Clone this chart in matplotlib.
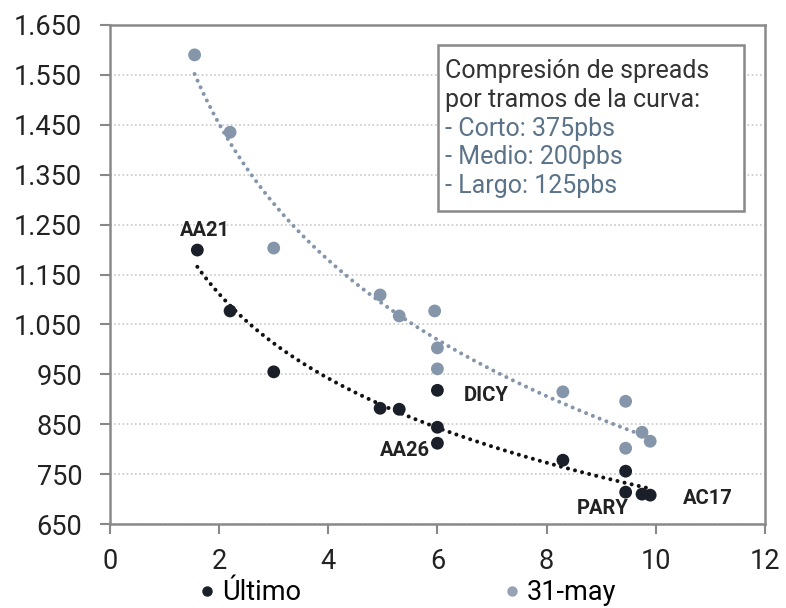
import numpy as np
import matplotlib
matplotlib.use("Agg")
import matplotlib.pyplot as plt
from matplotlib.patches import Rectangle
from matplotlib.lines import Line2D

plt.rcParams['font.family'] = ['Roboto', 'DejaVu Sans']

# Data
ultimo_x = [1.6, 2.2, 3.0, 4.95, 5.3, 6.0, 6.0, 6.0, 8.3, 9.45, 9.45, 9.75, 9.9]
ultimo_y = [1199, 1077, 955, 882, 880, 918, 844, 812, 778, 756, 714, 710, 708]
may_x = [1.55, 2.2, 3.0, 4.95, 5.3, 5.95, 6.0, 6.0, 8.3, 9.45, 9.45, 9.75, 9.9]
may_y = [1590, 1435, 1203, 1109, 1067, 1077, 1003, 961, 915, 896, 802, 834, 816]
labels = ["AA21", "DICY", "AA26", "PARY", "AC17"]
label_x = [1.74, 6.9, 5.4, 9.03, 10.95]
label_y = [1239, 908, 798, 682, 702]
yticks = [650, 750, 850, 950, 1050, 1150, 1250, 1350, 1450, 1550, 1650]
ytick_labels = ["650", "750", "850", "950", "1.050", "1.150", "1.250", "1.350", "1.450", "1.550", "1.650"]
xticks = [0, 2, 4, 6, 8, 10, 12]
box_lines = ["Compresión de spreads", "por tramos de la curva:", "- Corto: 375pbs", "- Medio: 200pbs", "- Largo: 125pbs"]
series_names = ["Último", "31-may"]

dark = "#1b1f29"
gray = "#8596ab"

fig = plt.figure(figsize=(7.86, 6.08), dpi=100)
ax = fig.add_axes([0.140, 0.138, 0.833, 0.821])

# log trendlines
def logfit(xs, ys):
    b, a = np.polyfit(np.log(xs), ys, 1)
    xx = np.linspace(min(xs), max(xs), 300)
    return xx, a + b * np.log(xx)

dotted = (0, (0.01, 1.8))
xx, yy = logfit(may_x, may_y)
ax.plot(xx, yy, color=gray, lw=2.9, linestyle=dotted, dash_capstyle='round', zorder=2)
xx, yy = logfit(ultimo_x, ultimo_y)
ax.plot(xx, yy, color="#111111", lw=2.9, linestyle=dotted, dash_capstyle='round', zorder=2)

ax.scatter(may_x, may_y, s=85, color=gray, zorder=3, edgecolors='none')
ax.scatter(ultimo_x, ultimo_y, s=85, color=dark, zorder=4, edgecolors='none')

for t, x, y in zip(labels, label_x, label_y):
    ax.text(x, y, t, fontsize=14.5, fontweight='bold', color="#222222", ha='center', va='center')

ax.set_xlim(0, 12)
ax.set_ylim(650, 1650)
ax.set_yticks(yticks)
ax.set_yticklabels(ytick_labels)
ax.set_xticks(xticks)
ax.tick_params(axis='both', labelsize=19.5, labelcolor="#222222", color="#888888",
               length=7, width=1.5, direction='out')
ax.tick_params(axis='y', pad=13)
ax.tick_params(axis='x', pad=10)
for sp in ax.spines.values():
    sp.set_color("#8a8a8a")
    sp.set_linewidth(1.8)
ax.yaxis.grid(True, color="#c8c8c8", linestyle=(0, (1, 1.5)), linewidth=1.2)
ax.set_axisbelow(True)

# annotation box
colors_box = ["#333333", "#333333", "#5b7389", "#5b7389", "#5b7389"]
ax.add_patch(Rectangle((0.501, 0.627), 0.467, 0.333, transform=ax.transAxes,
                       facecolor='white', edgecolor="#888888", lw=1.8, zorder=5))
for i, (t, c) in enumerate(zip(box_lines, colors_box)):
    ax.text(0.512, 0.907 - i * 0.0575, t, transform=ax.transAxes, fontsize=18,
            color=c, ha='left', va='center', zorder=6)

handles = [Line2D([], [], marker='o', ls='none', color=dark, markersize=6.5),
           Line2D([], [], marker='o', ls='none', color="#96a3b5", markersize=6.5)]
fig.legend(handles=handles, labels=series_names,
           loc='center', bbox_to_anchor=(0.515, 0.025), ncol=2, frameon=False,
           fontsize=19.5, handletextpad=0.05, columnspacing=7.3, handlelength=1.0)

fig.savefig("out.png", dpi=100)
